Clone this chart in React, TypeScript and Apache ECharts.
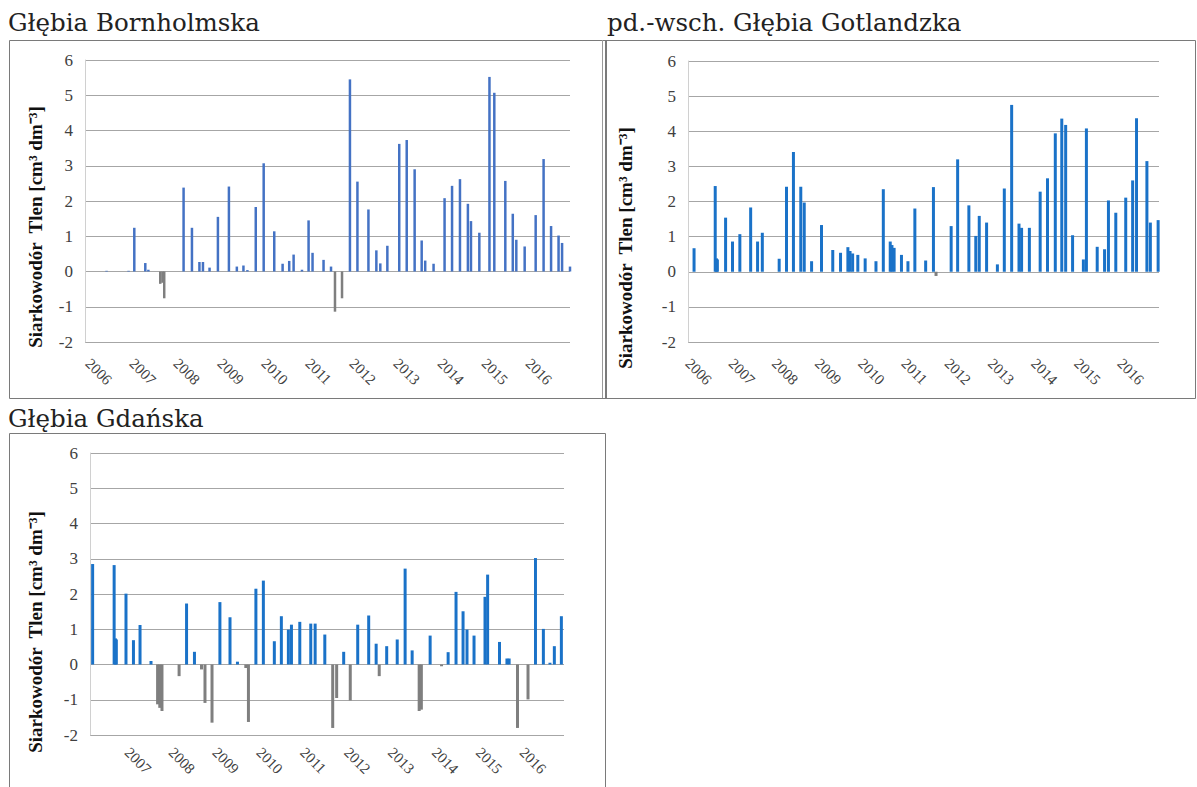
import React, { useEffect, useRef } from "react";
import * as echarts from "echarts";

const yearLabels = [2006, 2007, 2008, 2009, 2010, 2011, 2012, 2013, 2014, 2015, 2016];
const yearLabelsGdansk = [2007, 2008, 2009, 2010, 2011, 2012, 2013, 2014, 2015, 2016];

const titles = ["Głębia Bornholmska", "pd.-wsch. Głębia Gotlandzka", "Głębia Gdańska"];
const yName = "Siarkowodór  Tlen [cm³ dm⁻³]";

// Głębia Bornholmska: sampling dates (decimal years) and values (O2 > 0, H2S < 0)
const bornDates = [
  2006.42, 2006.92, 2007.05, 2007.3, 2007.37, 2007.64, 2007.69, 2007.73, 2008.17, 2008.36,
  2008.53, 2008.61, 2008.76, 2008.95, 2009.2, 2009.38, 2009.53, 2009.62, 2009.81, 2009.99,
  2010.23, 2010.42, 2010.57, 2010.67, 2010.86, 2011.01, 2011.1, 2011.35, 2011.52, 2011.61,
  2011.77, 2011.95, 2012.12, 2012.37, 2012.55, 2012.64, 2012.8, 2013.07, 2013.24, 2013.42,
  2013.58, 2013.66, 2013.85, 2014.1, 2014.27, 2014.45, 2014.63, 2014.7, 2014.89, 2015.12,
  2015.23, 2015.48, 2015.65, 2015.73, 2015.92, 2016.17, 2016.35, 2016.52, 2016.69, 2016.77,
  2016.95,
];
const bornValues = [
  0.02, 0.02, 1.24, 0.24, 0.05, -0.35, -0.32, -0.76, 2.38, 1.24,
  0.27, 0.27, 0.11, 1.55, 2.41, 0.14, 0.17, 0.04, 1.83, 3.07,
  1.14, 0.22, 0.3, 0.48, 0.05, 1.45, 0.53, 0.33, 0.14, -1.14,
  -0.76, 5.45, 2.55, 1.76, 0.6, 0.23, 0.73, 3.62, 3.73, 2.9,
  0.88, 0.31, 0.22, 2.08, 2.43, 2.62, 1.92, 1.43, 1.1, 5.52,
  5.07, 2.57, 1.64, 0.9, 0.71, 1.6, 3.19, 1.29, 1.02, 0.81,
  0.14,
];

// pd.-wsch. Głębia Gotlandzka
const gotDates = [
  2006.14, 2006.63, 2006.66, 2006.68, 2006.87, 2007.03, 2007.2, 2007.45, 2007.61, 2007.72,
  2008.11, 2008.28, 2008.44, 2008.61, 2008.69, 2008.86, 2009.09, 2009.35, 2009.53, 2009.7,
  2009.75, 2009.81, 2009.93, 2010.1, 2010.35, 2010.52, 2010.68, 2010.72, 2010.77, 2010.94,
  2011.09, 2011.25, 2011.5, 2011.68, 2011.74, 2012.09, 2012.24, 2012.5, 2012.66, 2012.74,
  2012.91, 2013.16, 2013.32, 2013.49, 2013.66, 2013.72, 2013.9, 2014.15, 2014.32, 2014.5,
  2014.65, 2014.74, 2014.9, 2015.15, 2015.22, 2015.47, 2015.64, 2015.73, 2015.9, 2016.13,
  2016.29, 2016.38, 2016.62, 2016.7, 2016.88,
];
const gotValues = [
  0.67, 2.44, 0.38, 0.35, 1.54, 0.86, 1.07, 1.83, 0.86, 1.11,
  0.37, 2.42, 3.41, 2.42, 1.97, 0.3, 1.33, 0.62, 0.54, 0.7,
  0.59, 0.52, 0.48, 0.38, 0.3, 2.35, 0.86, 0.76, 0.68, 0.48,
  0.3, 1.8, 0.32, 2.41, -0.12, 1.3, 3.2, 1.89, 1.02, 1.59,
  1.4, 0.21, 2.37, 4.75, 1.37, 1.25, 1.25, 2.28, 2.66, 3.94,
  4.36, 4.18, 1.04, 0.35, 4.08, 0.71, 0.64, 2.03, 1.68, 2.11,
  2.6, 4.37, 3.15, 1.4, 1.47,
];

// Głębia Gdańska
const gdaDates = [
  2006.21, 2006.7, 2006.73, 2006.75, 2006.97, 2007.14, 2007.29, 2007.54, 2007.69, 2007.74,
  2007.79, 2008.18, 2008.35, 2008.53, 2008.69, 2008.77, 2008.93, 2009.11, 2009.34, 2009.51,
  2009.7, 2009.76, 2009.93, 2010.1, 2010.35, 2010.51, 2010.67, 2010.74, 2010.93, 2011.18,
  2011.28, 2011.5, 2011.68, 2011.77, 2011.93, 2012.08, 2012.25, 2012.5, 2012.67, 2012.74,
  2012.91, 2013.15, 2013.33, 2013.49, 2013.65, 2013.7, 2013.9, 2014.16, 2014.31, 2014.49,
  2014.65, 2014.74, 2014.9, 2015.15, 2015.21, 2015.48, 2015.65, 2015.7, 2015.89, 2016.13,
  2016.3, 2016.48, 2016.63, 2016.73, 2016.89,
];
const gdaValues = [
  2.85, 2.82, 0.74, 0.71, 2.01, 0.69, 1.12, 0.1, -1.13, -1.23,
  -1.32, -0.33, 1.73, 0.36, -0.14, -1.09, -1.65, 1.77, 1.34, 0.08,
  -0.1, -1.63, 2.15, 2.38, 0.66, 1.37, 0.99, 1.13, 1.21, 1.16,
  1.16, 0.85, -1.8, -0.95, 0.36, -1.02, 1.13, 1.39, 0.59, -0.33,
  0.52, 0.71, 2.72, 0.4, -1.32, -1.28, 0.82, -0.05, 0.35, 2.06,
  1.51, 0.99, 0.82, 1.92, 2.55, 0.64, 0.17, 0.17, -1.8, -0.99,
  3.02, 1.01, 0.05, 0.52, 1.37,
];

const BLUE1 = "#4472c4";
const BLUE2 = "#1a72c8";
const GRAY = "#7f7f7f";
const SERIF = "'Liberation Serif', 'Times New Roman', serif";
const TITLE_FONT = "'DejaVu Serif', serif";

function pairs(xs: number[], ys: number[]) {
  return xs.map((x, i) => [x, ys[i]]);
}

export default function App() {
  const ref = useRef<HTMLDivElement>(null);

  useEffect(() => {
    if (!ref.current) return;
    const chart = echarts.init(ref.current, undefined, { renderer: "svg" });

    const grids = [
      { left: 85, top: 60, width: 485, height: 282 },
      { left: 688, top: 61, width: 471, height: 281 },
      { left: 90, top: 453, width: 474, height: 282 },
    ];
    const xRanges = [
      { min: 2005.93, max: 2016.95, labels: yearLabels },
      { min: 2006, max: 2016.9, labels: yearLabels },
      { min: 2006.15, max: 2016.95, labels: yearLabelsGdansk },
    ];
    const datasets = [
      { d: pairs(bornDates, bornValues), blue: BLUE1, w: 2.5 },
      { d: pairs(gotDates, gotValues), blue: BLUE2, w: 3 },
      { d: pairs(gdaDates, gdaValues), blue: BLUE2, w: 3 },
    ];

    const xAxis = xRanges.map((r, i) => ({
      type: "value",
      gridIndex: i,
      min: r.min,
      max: r.max,
      splitLine: { show: false },
      axisLine: { show: false },
      axisTick: { show: false },
      axisLabel: {
        customValues: r.labels,
        rotate: -45,
        margin: i === 2 ? 15 : 19,
        fontSize: 15,
        fontFamily: SERIF,
        color: "#404040",
        formatter: (v: number) => String(Math.round(v)),
      },
    }));

    const yAxis = grids.map((_, i) => ({
      type: "value",
      gridIndex: i,
      min: -2,
      max: 6,
      interval: 1,
      axisLine: { show: true, lineStyle: { color: "#d0d0d0" } },
      axisTick: { show: false },
      splitLine: { show: true, lineStyle: { color: "#a6a6a6", width: 1 } },
      axisLabel: {
        fontSize: 17,
        fontFamily: SERIF,
        color: "#404040",
        margin: 12,
      },
    }));

    const series = datasets.map((ds, i) => ({
      type: "bar",
      xAxisIndex: i,
      yAxisIndex: i,
      barWidth: ds.w,
      data: ds.d,
      itemStyle: {
        color: (p: any) => (p.value[1] < 0 ? GRAY : ds.blue),
      },
    }));

    const titlePos = [
      { x: 8, y: 10 },
      { x: 607, y: 10 },
      { x: 8, y: 406 },
    ];
    const yNamePos = [
      { x: 35, y: 227 },
      { x: 625, y: 248 },
      { x: 35, y: 632 },
    ];

    const graphic: any[] = [
      {
        type: "rect",
        shape: { x: 9.5, y: 40.5, width: 597, height: 358 },
        style: { fill: "none", stroke: "#7a7a7a", lineWidth: 1 },
      },
      {
        type: "rect",
        shape: { x: 605.5, y: 40.5, width: 590, height: 358 },
        style: { fill: "none", stroke: "#7a7a7a", lineWidth: 1 },
      },
      {
        type: "line",
        shape: { x1: 602.5, y1: 40, x2: 602.5, y2: 398 },
        style: { stroke: "#9a9a9a", lineWidth: 1 },
      },
      {
        type: "rect",
        shape: { x: 9.5, y: 433.5, width: 596, height: 362 },
        style: { fill: "none", stroke: "#7a7a7a", lineWidth: 1 },
      },
    ];
    titles.forEach((t, i) => {
      graphic.push({
        type: "text",
        x: titlePos[i].x,
        y: titlePos[i].y,
        style: {
          text: t,
          font: `24.5px ${TITLE_FONT}`,
          fill: "#222",
          textAlign: "left",
          textVerticalAlign: "top",
        },
      });
    });
    yNamePos.forEach((p) => {
      graphic.push({
        type: "text",
        x: p.x,
        y: p.y,
        rotation: Math.PI / 2,
        style: {
          text: yName,
          font: `bold 19px ${SERIF}`,
          fill: "#111",
          textAlign: "center",
          textVerticalAlign: "middle",
        },
      });
    });

    chart.setOption({
      animation: false,
      backgroundColor: "#ffffff",
      grid: grids,
      xAxis,
      yAxis,
      series,
      graphic,
    });

    return () => chart.dispose();
  }, []);

  return (
    <div
      ref={ref}
      style={{ position: "absolute", left: 0, top: 0, width: 1197, height: 787 }}
    />
  );
}
